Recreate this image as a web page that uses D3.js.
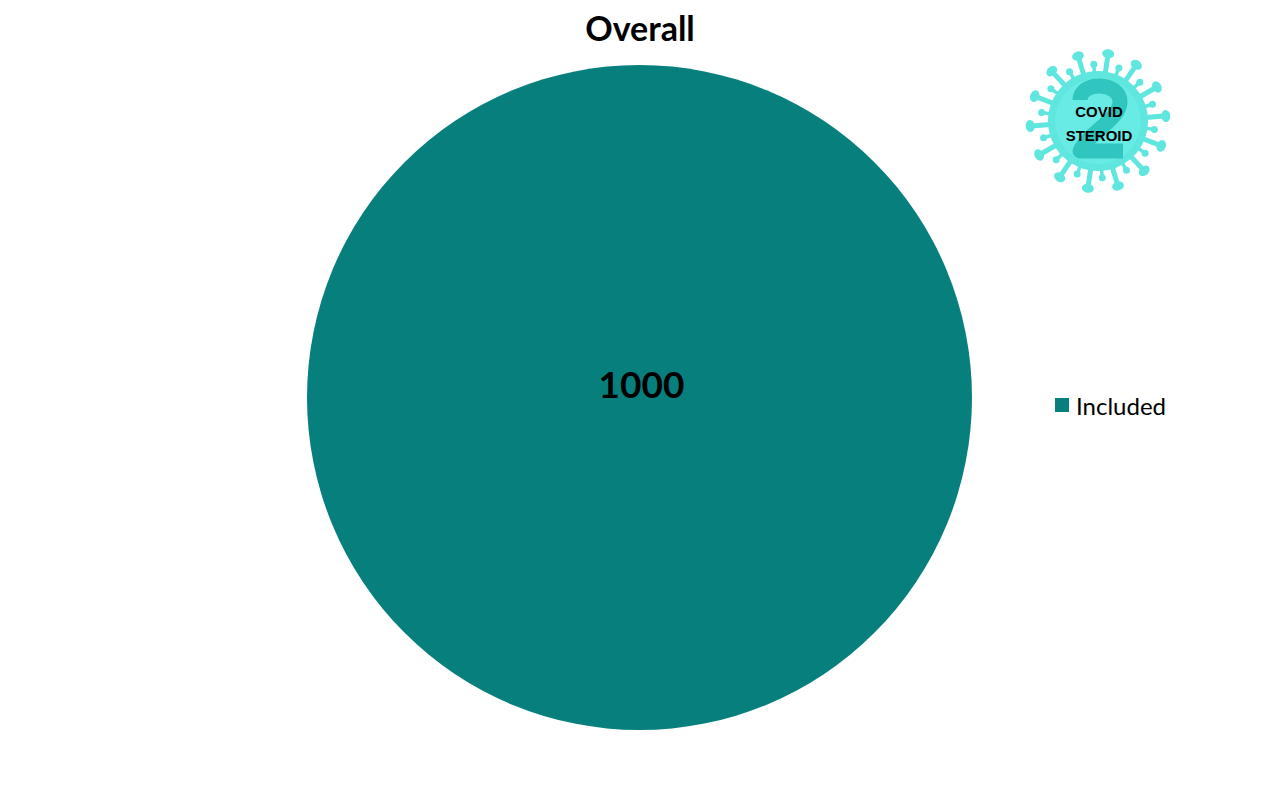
<!DOCTYPE html>
<html><head><meta charset="utf-8">
<script src="https://cdn.jsdelivr.net/npm/d3@7"></script>
<style>body{margin:0;background:#fff}svg{display:block}</style>
</head><body>
<script>
const categories = ["Included"];
const values = [1000];
const title = "Overall";
const colors = ["#077f7d"];

const W = 1280, H = 794;
const svg = d3.select("body").append("svg").attr("width", W).attr("height", H);
const font = "Lato, 'Open Sans', sans-serif";

svg.append("text").attr("x", 640).attr("y", 41).attr("text-anchor", "middle")
  .attr("font-family", font).attr("font-weight", 700).attr("font-size", 34).text(title);

const cx = 639.5, cy = 397.5, r = 332.5;
const pie = d3.pie().sort(null)(values);
const arc = d3.arc().innerRadius(0).outerRadius(r);
const g = svg.append("g").attr("transform", `translate(${cx},${cy})`);
g.selectAll("path").data(pie).join("path").attr("d", arc).attr("fill", (d, i) => colors[i]);
g.selectAll("text").data(pie).join("text")
  .attr("transform", d => pie.length === 1 ? "translate(2,-14)" : `translate(${arc.centroid(d)})`)
  .attr("text-anchor", "middle").attr("dominant-baseline", "central")
  .attr("font-family", font).attr("font-weight", 700).attr("font-size", 37).attr("fill", "#000")
  .text(d => d.data);

const leg = svg.append("g").attr("transform", "translate(1055,398)");
categories.forEach((c, i) => {
  leg.append("rect").attr("x", 0).attr("y", i * 30).attr("width", 14).attr("height", 14).attr("fill", colors[i]);
  leg.append("text").attr("x", 21).attr("y", i * 30 + 7).attr("dominant-baseline", "central")
    .attr("font-family", font).attr("font-size", 24).attr("fill", "#000").text(c);
});

// logo
const lg = svg.append("g").attr("transform", "translate(1098,121)");
const spikeCol = "#5ee6df";
const nSp = 14;
for (let i = 0; i < nSp; i++) {
  const a = i / nSp * 2 * Math.PI - Math.PI / 2 + 0.15;
  lg.append("line").attr("x1", Math.cos(a) * 45).attr("y1", Math.sin(a) * 45)
    .attr("x2", Math.cos(a) * 66).attr("y2", Math.sin(a) * 66)
    .attr("stroke", spikeCol).attr("stroke-width", 5);
  lg.append("ellipse").attr("cx", Math.cos(a) * 68).attr("cy", Math.sin(a) * 68).attr("rx", 6).attr("ry", 4.5)
    .attr("transform", `rotate(${a * 180 / Math.PI + 90},${Math.cos(a) * 68},${Math.sin(a) * 68})`)
    .attr("fill", spikeCol);
  const b = a + Math.PI / nSp;
  lg.append("line").attr("x1", Math.cos(b) * 45).attr("y1", Math.sin(b) * 45)
    .attr("x2", Math.cos(b) * 56).attr("y2", Math.sin(b) * 56).attr("stroke", spikeCol).attr("stroke-width", 3.5);
  lg.append("circle").attr("cx", Math.cos(b) * 57).attr("cy", Math.sin(b) * 57).attr("r", 3.5).attr("fill", spikeCol);
}
lg.append("circle").attr("r", 50).attr("fill", spikeCol);
lg.append("circle").attr("r", 43).attr("fill", "#68ebe4");
lg.append("path").attr("d", "M -18,-21 C -18,-40 22,-40 22,-19 C 22,-2 -10,12 -18,30 L 25,30")
  .attr("fill", "none").attr("stroke", "#30c6bf").attr("stroke-width", 15).attr("stroke-linejoin", "round");
lg.append("text").attr("x", 1).attr("y", -4).attr("text-anchor", "middle")
  .attr("font-family", "'Liberation Sans', Arial, sans-serif").attr("font-weight", 700).attr("font-size", 15)
  .attr("fill", "#000").text("COVID");
lg.append("text").attr("x", 1).attr("y", 20).attr("text-anchor", "middle")
  .attr("font-family", "'Liberation Sans', Arial, sans-serif").attr("font-weight", 700).attr("font-size", 15)
  .attr("fill", "#000").text("STEROID");
</script>
</body></html>
